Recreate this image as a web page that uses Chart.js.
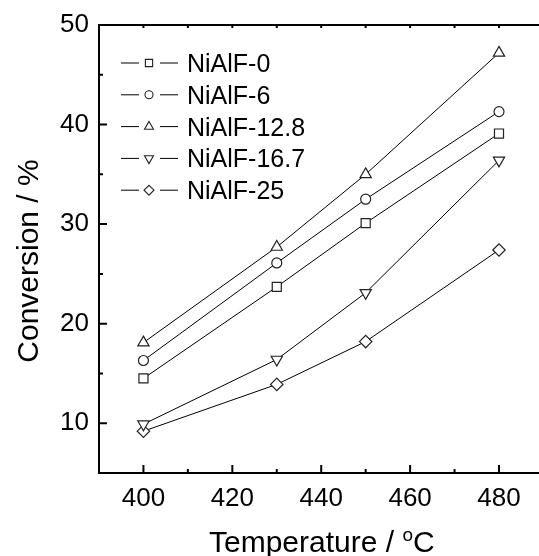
<!DOCTYPE html>
<html>
<head>
<meta charset="utf-8">
<script src="https://cdn.jsdelivr.net/npm/chart.js@4.4.1/dist/chart.umd.min.js"></script>
<style>
  html, body { margin: 0; padding: 0; background: #fff; }
  #wrap { width: 539px; height: 556px; }
</style>
</head>
<body>
<div id="wrap"><canvas id="convChart" width="539" height="556"></canvas></div>
<script>
// data
const temps = [400, 430, 450, 480];
const conv0 = [14.5, 23.7, 30.1, 39.1];
const conv6 = [16.3, 26.1, 32.5, 41.3];
const conv128 = [18.1, 27.7, 35.0, 47.2];
const conv167 = [9.9, 16.4, 23.1, 36.4];
const conv25 = [9.2, 13.9, 18.2, 27.4];
const seriesNames = ['NiAlF-0', 'NiAlF-6', 'NiAlF-12.8', 'NiAlF-16.7', 'NiAlF-25'];
const xTicks = [400, 420, 440, 460, 480];
const yTicks = [10, 20, 30, 40, 50];

const font = 'Liberation Sans, Arial, sans-serif';
const marks = [
  { style: 'rect', radius: 6.4, rot: 0 },
  { style: 'circle', radius: 5, rot: 0 },
  { style: 'triangle', radius: 6.5, rot: 0 },
  { style: 'triangle', radius: 6.5, rot: 180 },
  { style: 'rectRot', radius: 6.2, rot: 0 }
];

const allSeries = [conv0, conv6, conv128, conv167, conv25];
const datasets = allSeries.map((vals, i) => ({
  label: seriesNames[i],
  data: temps.map((t, j) => ({ x: t, y: vals[j] })),
  borderColor: '#000',
  borderWidth: 1,
  pointStyle: marks[i].style,
  pointRadius: marks[i].radius,
  pointRotation: marks[i].rot,
  pointBorderColor: '#222',
  pointBackgroundColor: '#fff',
  pointBorderWidth: 1.2,
  tension: 0
}));

const frame = {
  id: 'frame',
  afterDraw(chart) {
    const ctx = chart.ctx, a = chart.chartArea;
    const xs = chart.scales.x, ys = chart.scales.y;
    ctx.save();
    ctx.strokeStyle = '#000';
    ctx.lineWidth = 2;
    ctx.beginPath();
    ctx.moveTo(a.left - 1, a.top); ctx.lineTo(a.right, a.top);
    ctx.moveTo(a.left, a.top); ctx.lineTo(a.left, a.bottom);
    ctx.moveTo(a.left - 1, a.bottom); ctx.lineTo(a.right, a.bottom);
    // inward ticks on x
    for (let v = 400; v <= 480; v += 10) {
      const px = xs.getPixelForValue(v);
      const len = v % 20 === 0 ? 8 : 4;
      ctx.moveTo(px, a.bottom); ctx.lineTo(px, a.bottom - len);
      ctx.moveTo(px, a.top); ctx.lineTo(px, a.top + 3);
    }
    // inward ticks on y
    for (let v = 10; v <= 45; v += 5) {
      const py = ys.getPixelForValue(v);
      const len = v % 10 === 0 ? 8 : 4;
      ctx.moveTo(a.left, py); ctx.lineTo(a.left + len, py);
    }
    ctx.stroke();

    // axis titles
    ctx.fillStyle = '#000';
    ctx.font = '30px ' + font;
    ctx.textBaseline = 'alphabetic';
    ctx.textAlign = 'left';
    const t1 = 'Temperature / ';
    let x0 = 209;
    ctx.fillText(t1, x0, 552);
    x0 += ctx.measureText(t1).width;
    ctx.font = '19px ' + font;
    ctx.fillText('o', x0, 541);
    x0 += ctx.measureText('o').width;
    ctx.font = '30px ' + font;
    ctx.fillText('C', x0, 552);

    ctx.save();
    ctx.translate(30, 261);
    ctx.rotate(-Math.PI / 2);
    ctx.textAlign = 'center';
    ctx.textBaseline = 'middle';
    ctx.fillText('Conversion / %', 0, 0);
    ctx.restore();

    // legend
    ctx.lineWidth = 1;
    ctx.font = '25px ' + font;
    ctx.textAlign = 'left';
    ctx.textBaseline = 'alphabetic';
    chart.data.datasets.forEach((ds, i) => {
      const y = 63 + i * 31.8;
      ctx.strokeStyle = '#000';
      ctx.beginPath();
      ctx.moveTo(121, y); ctx.lineTo(139, y);
      ctx.moveTo(160, y); ctx.lineTo(178, y);
      ctx.stroke();
      ctx.strokeStyle = '#222';
      ctx.fillStyle = '#fff';
      ctx.lineWidth = 1.1;
      Chart.helpers.drawPoint(ctx, {
        pointStyle: marks[i].style,
        rotation: marks[i].rot,
        radius: marks[i].radius * 0.8,
        borderWidth: 1.1
      }, 149, y);
      ctx.lineWidth = 1;
      ctx.fillStyle = '#000';
      ctx.fillText(ds.label, 187, y + 9);
    });
    ctx.restore();
  }
};

new Chart(document.getElementById('convChart').getContext('2d'), {
  type: 'line',
  data: { datasets: datasets },
  options: {
    responsive: false,
    animation: false,
    layout: { autoPadding: false, padding: { top: 25, right: 0, bottom: 0, left: 0 } },
    scales: {
      x: {
        type: 'linear',
        min: 390,
        max: 489,
        afterBuildTicks: s => { s.ticks = xTicks.map(v => ({ value: v })); },
        afterFit: s => { s.height = 83; s.paddingLeft = 0; s.paddingRight = 0; },
        grid: { display: false, drawTicks: false },
        border: { display: false },
        ticks: {
          color: '#000',
          padding: 10,
          maxRotation: 0,
          font: { family: font, size: 26 }
        }
      },
      y: {
        min: 5,
        max: 50,
        afterBuildTicks: s => { s.ticks = yTicks.map(v => ({ value: v })); },
        afterFit: s => { s.width = 99; s.paddingTop = 0; s.paddingBottom = 0; },
        grid: { display: false, drawTicks: false },
        border: { display: false },
        ticks: {
          color: '#000',
          padding: 10,
          font: { family: font, size: 26 }
        }
      }
    },
    plugins: {
      legend: { display: false },
      tooltip: { enabled: false }
    }
  },
  plugins: [frame]
});
</script>
</body>
</html>
